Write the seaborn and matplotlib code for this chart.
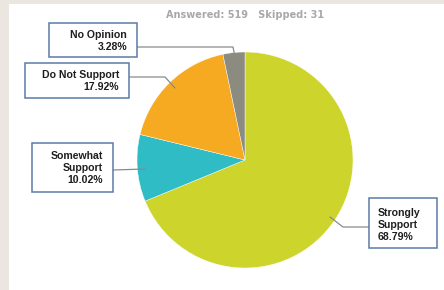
import matplotlib
matplotlib.use("Agg")
import matplotlib.pyplot as plt
from matplotlib.patches import Rectangle
import seaborn as sns

categories = ["Strongly Support", "Somewhat Support", "Do Not Support", "No Opinion"]
values = [68.79, 10.02, 17.92, 3.28]
label_lines = [["Strongly", "Support"], ["Somewhat", "Support"], ["Do Not Support"], ["No Opinion"]]
colors = ["#cdd42c", "#2fbcc4", "#f6aa22", "#8c8b80"]
answered = 519
skipped = 31

sns.set_theme(style="white")
plt.rcParams['font.family'] = ['Liberation Sans', 'DejaVu Sans']

W, H = 444, 290
fig = plt.figure(figsize=(W / 100, H / 100), dpi=100)
fig.patch.set_facecolor("#ebe7e0")
ax = fig.add_axes([0, 0, 1, 1])

def Y(y):
    return H - y

# white panel
ax.add_patch(Rectangle((9, 0), W - 9, H - 4, facecolor="white", edgecolor="none", zorder=0))

cx, cy, r = 245, 160, 108
ax.pie(values, colors=colors, startangle=90, counterclock=False,
       center=(cx, Y(cy)), radius=r, frame=True,
       wedgeprops=dict(linewidth=0.3, edgecolor="white"))

ax.set_xlim(0, W)
ax.set_ylim(0, H)
ax.set_aspect("auto")
ax.axis("off")

ax.text(245, Y(15), f"Answered: {answered}   Skipped: {skipped}", ha="center", va="center",
        fontsize=7, fontweight="bold", color="#a8a8a8", family=["DejaVu Sans"])

# label boxes: (x0, y0, x1, y1), text anchor x, ha, text center y
boxes = {
    "No Opinion": ((49, 23, 137, 57), 127, "right", 41),
    "Do Not Support": ((25, 63, 129, 98), 119, "right", 81),
    "Somewhat Support": ((32, 143, 113, 192), 103, "right", 168),
    "Strongly Support": ((369, 198, 437, 248), 378, "left", 225),
}
leaders = {
    "No Opinion": [(137, 47), (233, 47), (236, 62)],
    "Do Not Support": [(129, 77), (165, 77), (175, 88)],
    "Somewhat Support": [(113, 170), (145, 169)],
    "Strongly Support": [(369, 227), (343, 227), (330, 217)],
}

for cat, val, lines in zip(categories, values, label_lines):
    (x0, y0, x1, y1), tx, ha, ty = boxes[cat]
    ax.add_patch(Rectangle((x0, Y(y1)), x1 - x0, y1 - y0, facecolor="white",
                           edgecolor="#5b7aa6", linewidth=1.1, zorder=5))
    txt = "\n".join(lines + [f"{val:.2f}%"])
    ax.text(tx, Y(ty), txt, ha=ha, va="center", multialignment=ha, fontsize=7.6,
            fontweight="bold", color="#1e1e1e", linespacing=1.2, zorder=6)
    pts = leaders[cat]
    ax.plot([p[0] for p in pts], [Y(p[1]) for p in pts], color="#8a8a8a", linewidth=0.9, zorder=4)

fig.savefig("out.png", dpi=100, facecolor=fig.get_facecolor())
